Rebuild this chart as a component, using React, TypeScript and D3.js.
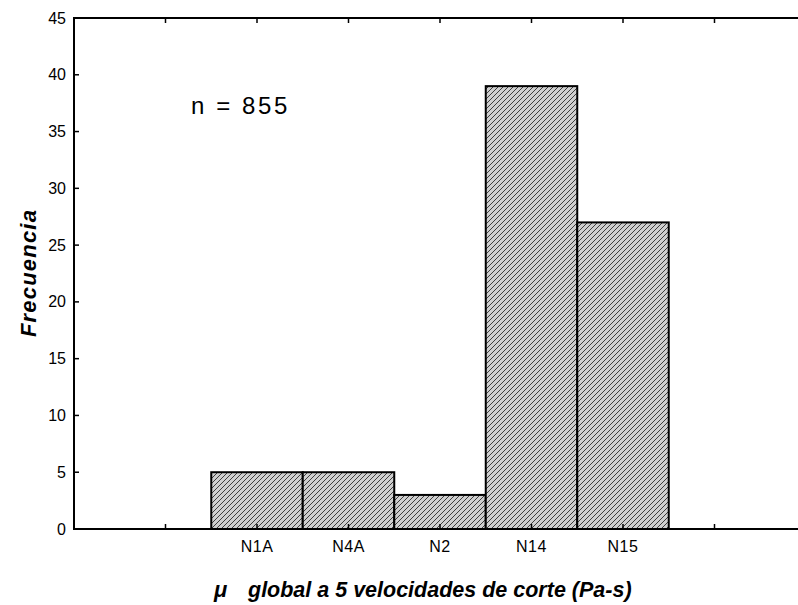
import React, { useEffect, useRef } from "react";
import * as d3 from "d3";

const categories = ["N1A", "N4A", "N2", "N14", "N15"];
const frequencies = [5, 5, 3, 39, 27];
const yTicks = [0, 5, 10, 15, 20, 25, 30, 35, 40, 45];
const xTickSlots = [0, 1, 2, 3, 4, 5, 6, 7];
const annotation = "n = 855";
const yTitle = "Frecuencia";
const xTitleSymbol = "μ";
const xTitle = "global a 5 velocidades de corte (Pa-s)";

const W = 798;
const H = 605;

export default function App() {
  const ref = useRef<SVGSVGElement | null>(null);

  useEffect(() => {
    document.body.style.margin = "0";
    const svg = d3.select(ref.current);
    svg.selectAll("*").remove();

    const left = 74, top = 18, bottom = 529, right = 806;
    const x = d3.scaleLinear().domain([-1, 7]).range([left, right]);
    const y = d3.scaleLinear().domain([0, 45]).range([bottom, top]);
    const slot = x(1) - x(0);

    const defs = svg.append("defs");
    const pat = defs
      .append("pattern")
      .attr("id", "hatch")
      .attr("patternUnits", "userSpaceOnUse")
      .attr("width", 5)
      .attr("height", 5);
    pat.append("rect").attr("width", 5).attr("height", 5).attr("fill", "#cfcfcf");
    pat
      .append("path")
      .attr("d", "M-1,1 l2,-2 M0,5 l5,-5 M4,6 l2,-2")
      .attr("stroke", "#222")
      .attr("stroke-width", 0.85);

    const font = "'Liberation Sans', Arial, sans-serif";

    // bars
    svg
      .append("g")
      .selectAll("rect")
      .data(categories)
      .join("rect")
      .attr("x", (_d, i) => x(i + 1) - slot / 2)
      .attr("width", slot)
      .attr("y", (_d, i) => y(frequencies[i]))
      .attr("height", (_d, i) => y(0) - y(frequencies[i]))
      .attr("fill", "url(#hatch)")
      .attr("stroke", "#000")
      .attr("stroke-width", 2);

    // axis lines
    const ax = svg.append("g").attr("stroke", "#000").attr("fill", "none");
    ax.append("line").attr("x1", left).attr("x2", left).attr("y1", top - 1).attr("y2", bottom + 1).attr("stroke-width", 2);
    ax.append("line").attr("x1", left - 1).attr("x2", W).attr("y1", bottom).attr("y2", bottom).attr("stroke-width", 2);
    ax.append("line").attr("x1", left - 1).attr("x2", W).attr("y1", top).attr("y2", top).attr("stroke-width", 2);

    // x ticks (bottom inward, top inward)
    xTickSlots.forEach((s) => {
      ax.append("line").attr("x1", x(s)).attr("x2", x(s)).attr("y1", bottom).attr("y2", bottom - 5).attr("stroke-width", 1.5);
      ax.append("line").attr("x1", x(s)).attr("x2", x(s)).attr("y1", top).attr("y2", top + 5).attr("stroke-width", 1.5);
    });

    // y ticks
    yTicks.forEach((t) => {
      ax.append("line").attr("x1", left).attr("x2", left + 5).attr("y1", y(t)).attr("y2", y(t)).attr("stroke-width", 1.5);
    });

    // y tick labels
    svg
      .append("g")
      .selectAll("text")
      .data(yTicks)
      .join("text")
      .attr("x", 66)
      .attr("y", (d) => y(d) + 5.5)
      .attr("text-anchor", "end")
      .attr("font-family", font)
      .attr("font-size", 16)
      .attr("fill", "#000")
      .text((d) => String(d));

    // x tick labels
    svg
      .append("g")
      .selectAll("text")
      .data(categories)
      .join("text")
      .attr("x", (_d, i) => x(i + 1))
      .attr("y", 552)
      .attr("text-anchor", "middle")
      .attr("font-family", font)
      .attr("font-size", 16)
      .attr("letter-spacing", 0.5)
      .attr("fill", "#000")
      .text((d) => d);

    // annotation
    svg
      .append("text")
      .attr("x", 191)
      .attr("y", 114)
      .attr("font-family", font)
      .attr("font-size", 24)
      .attr("letter-spacing", 2.6)
      .attr("fill", "#000")
      .text(annotation);

    // y title
    svg
      .append("text")
      .attr("transform", `translate(36,273) rotate(-90)`)
      .attr("text-anchor", "middle")
      .attr("font-family", font)
      .attr("font-size", 22)
      .attr("font-weight", "bold")
      .attr("font-style", "italic")
      .attr("letter-spacing", 1.2)
      .attr("fill", "#000")
      .text(yTitle);

    // x title
    const xt = svg
      .append("text")
      .attr("x", 214)
      .attr("y", 597)
      .attr("font-family", font)
      .attr("font-size", 21.5)
      .attr("font-weight", "bold")
      .attr("font-style", "italic")
      .attr("fill", "#000");
    xt.append("tspan").attr("font-size", 22).text(xTitleSymbol);
    xt.append("tspan").attr("x", 248).text(xTitle);
  }, []);

  return (
    <svg
      ref={ref}
      width={W}
      height={H}
      style={{ display: "block", position: "absolute", left: 0, top: 0, background: "#fff" }}
    />
  );
}
